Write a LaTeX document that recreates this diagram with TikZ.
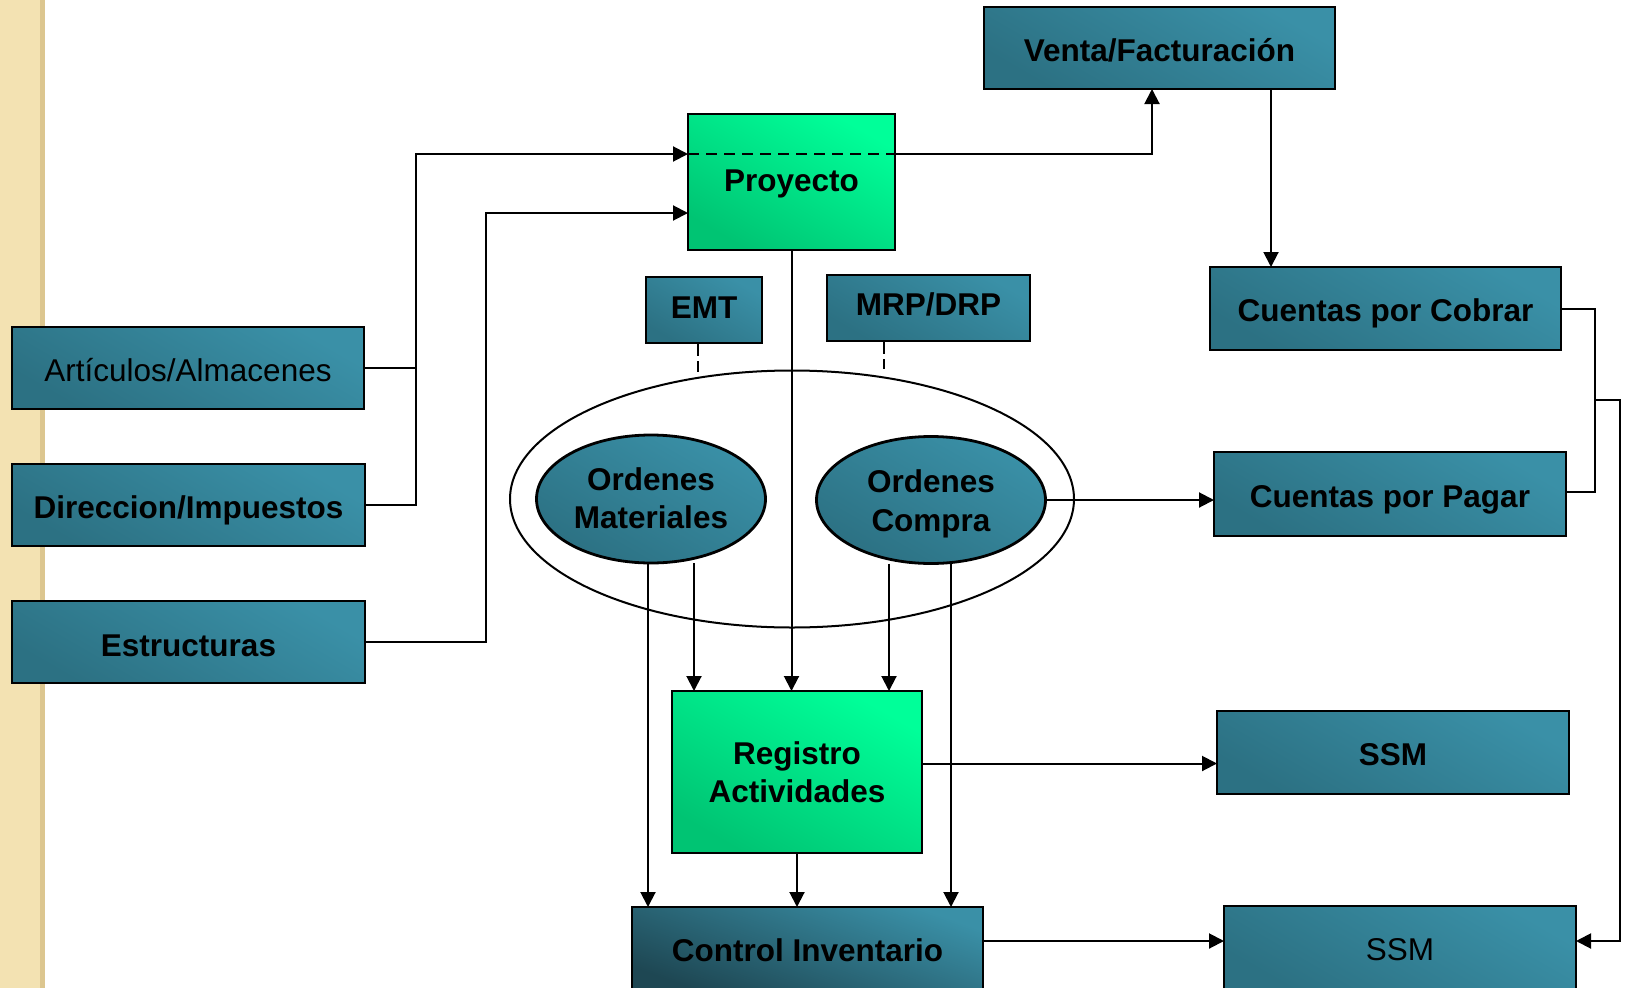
\documentclass[tikz,border=0pt]{standalone}
\usepackage{fontspec}
\setmainfont{Liberation Sans}
\usetikzlibrary{arrows.meta,shapes.geometric,backgrounds,calc}
\definecolor{tealL}{HTML}{3A90A7}
\definecolor{tealD}{HTML}{2C7183}
\definecolor{greenL}{HTML}{00FF99}
\definecolor{greenD}{HTML}{00C473}
\definecolor{darkT}{HTML}{1E4753}
\definecolor{beige}{HTML}{F3E2B2}
\definecolor{beigeD}{HTML}{DCC68F}
\newcommand{\dn}[2]{\raisebox{-#1}[\height][\depth]{#2}}
\begin{document}
\begin{tikzpicture}[x=1pt,y=-1pt,
  txt/.style={font=\fontsize{31.5}{38.5}\selectfont\bfseries, text=black, align=center},
  boxbase/.style={draw=black, line width=2.8pt, inner sep=0pt, outer sep=0pt},
  tealbox/.style={boxbase, rectangle, txt, top color=tealL, bottom color=tealD, shading angle=-30},
  greenbox/.style={boxbase, rectangle, txt, top color=greenL, bottom color=greenD, shading angle=-30},
  darkbox/.style={boxbase, rectangle, txt, top color=tealL, bottom color=darkT, shading angle=-20},
  tealell/.style={boxbase, ellipse, txt, top color=tealL, bottom color=tealD, shading angle=-30},
  conn/.style={draw=black, line width=2pt},
  arr/.style={conn, -{Triangle[length=15pt,width=15pt]}},
]
\useasboundingbox (0,0) rectangle (1631,988);
% left decorative strip
\fill[beige] (0,0) rectangle (45,988);
\fill[beigeD] (40,0) rectangle (45,988);

% big ellipse
\node[draw=black, line width=2pt, ellipse, minimum width=564pt, minimum height=257pt, inner sep=0pt] (grp) at (792,499) {};

% nodes
\node[tealbox, minimum width=351pt, minimum height=82pt] (venta) at (1159.5,48) {\dn{2pt}{Venta/Facturación}};
\node[greenbox, minimum width=207pt, minimum height=136pt] (proy) at (791.5,182) {\dn{2pt}{Proyecto}};
\node[tealbox, minimum width=351pt, minimum height=83pt] (cxc) at (1385.5,308.5) {\dn{5pt}{Cuentas por Cobrar}};
\node[tealbox, minimum width=116pt, minimum height=66pt] (emt) at (704,310) {\dn{-2pt}{EMT}};
\node[tealbox, minimum width=203pt, minimum height=66pt] (mrp) at (928.5,308) {\dn{-4pt}{MRP/DRP}};
\node[tealbox, minimum width=352pt, minimum height=82pt, font=\fontsize{31.5}{38.5}\selectfont\mdseries] (art) at (188,368) {\dn{2pt}{Artículos/Almacenes}};
\node[tealbox, minimum width=353pt, minimum height=82pt] (dir) at (188.5,505) {\dn{5pt}{Direccion/Impuestos}};
\node[tealbox, minimum width=353pt, minimum height=82pt] (est) at (188.5,642) {\dn{4pt}{Estructuras}};
\node[tealbox, minimum width=352pt, minimum height=84pt] (cxp) at (1390,494) {\dn{6pt}{Cuentas por Pagar}};
\node[greenbox, minimum width=250pt, minimum height=162pt] (reg) at (797,772) {Registro\\Actividades};
\node[tealbox, minimum width=352pt, minimum height=83pt] (ssma) at (1393,752.5) {\dn{2pt}{SSM}};
\node[darkbox, minimum width=351pt, minimum height=83pt] (ctrl) at (807.5,948.5) {\dn{2pt}{Control Inventario}};
\node[tealbox, minimum width=352pt, minimum height=83pt, font=\fontsize{31.5}{38.5}\selectfont\mdseries] (ssmb) at (1400,947.5) {\dn{2pt}{SSM}};
\node[tealell, minimum width=229pt, minimum height=128pt] (omat) at (651,499) {\dn{-1pt}{Ordenes}\\\dn{-1pt}{Materiales}};
\node[tealell, minimum width=229pt, minimum height=127pt] (ocom) at (931,500) {\dn{4pt}{Ordenes}\\\dn{4pt}{Compra}};

% bend coordinates
\coordinate (b1) at (416,154);
\coordinate (b2) at (486,213);
\coordinate (b3) at (1152,154);
\coordinate (b4) at (1595,400);
\coordinate (b5) at (1620,941);
\coordinate (e1) at (698,372);
\coordinate (e2) at (884,369);
\coordinate (xa) at (648,0);
\coordinate (xb) at (694,0);
\coordinate (xc) at (889,0);
\coordinate (xd) at (951,0);
\coordinate (xe) at (1271,0);
\coordinate (ye) at (0,492);

\begin{scope}[on background layer]
  \draw[conn] (art.east) -- (art.east -| b1);
  \draw[arr] (dir.east) -| (b1) -- (b1 -| proy.west);
  \draw[arr] (est.east) -| (b2) -- (b2 -| proy.west);
  \draw[arr] (b1 -| proy.east) -| (b3) -- (b3 |- venta.south);
  \draw[arr] (venta.south -| xe) -- (cxc.north -| xe);
  \draw[conn] (cxc.east) -| (b4) |- (cxp.east |- ye);
  \draw[arr] (b4) -| (b5) -- (b5 -| ssmb.east);
  \draw[arr] (ocom.east) -- (ocom.east -| cxp.west);
  \draw[arr] (proy.south) -- (proy.south |- reg.north);
  \draw[arr] (omat.south -| xa) -- (xa |- ctrl.north);
  \draw[arr] (omat.south -| xb) -- (xb |- reg.north);
  \draw[arr] (ocom.south -| xc) -- (xc |- reg.north);
  \draw[arr] (ocom.south -| xd) -- (xd |- ctrl.north);
  \draw[arr] (reg.south) -- (reg.south |- ctrl.north);
  \draw[arr] ([yshift=8.5pt]reg.east) -- ([yshift=8.5pt]reg.east -| ssma.west);
  \draw[arr] ([yshift=7.5pt]ctrl.east) -- ([yshift=7.5pt]ctrl.east -| ssmb.west);
\end{scope}

% dashed lines
\draw[black, line width=2.5pt, dash pattern=on 11pt off 7pt] (b1 -| proy.west) -- (b1 -| proy.east);
\draw[black, line width=2pt, dash pattern=on 13pt off 5pt] (emt.south -| e1) -- (e1);
\draw[black, line width=2pt, dash pattern=on 13pt off 5pt] (mrp.south -| e2) -- (e2);
\end{tikzpicture}
\end{document}
